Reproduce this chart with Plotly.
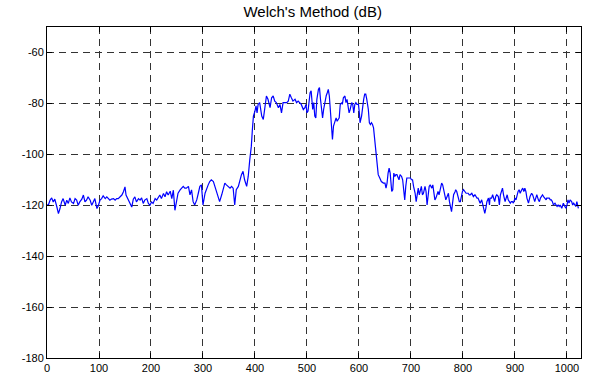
import plotly.graph_objects as go

# Frequency bins (x) and Welch PSD estimate in dB (y)
freq_a = [0, 3, 6, 9, 12, 15, 19, 22, 25, 28, 31, 35, 38, 41, 44, 47, 51, 54, 57, 60,
          63, 67, 70, 73, 76, 79, 83, 86, 89, 92, 96, 99, 102, 105, 108, 112, 115, 118,
          121, 124, 128, 131, 134, 137, 140, 144, 147, 150, 152, 155, 160, 163, 166, 169,
          172, 176, 179, 182, 185, 188, 192, 195, 198, 201, 204, 208, 211, 214, 217, 220,
          224, 227, 230, 233, 237, 240, 243, 246]
psd_a = [-120, -119.7, -118, -117.1, -118.7, -117.6, -120.7, -123.3, -121.3, -118.7, -117.4,
         -120, -118, -119.3, -117.1, -118.7, -119.3, -117.4, -118, -120, -118.7, -117.6, -116,
         -118.7, -118, -116.7, -118, -120, -118.7, -117.4, -121.3, -120, -118, -117.4, -116.3,
         -117.4, -116.7, -117.6, -118, -117.6, -117.4, -118, -117.4, -117.4, -116.7, -116,
         -114.7, -112.8, -116, -117.4, -119.3, -120.7, -117.6, -116.7, -118.7, -117.4, -118,
         -117.1, -119.3, -118, -117.4, -119.3, -120, -118.7, -119.3, -117.4, -118, -116.7, -116,
         -117.4, -115.4, -116.7, -114.7, -116, -114.5, -117.4, -114.1, -122]

freq_b = [252, 256, 259, 262, 265, 268, 272, 275, 278, 281, 284, 288, 291, 294, 297, 300,
          304, 307, 310, 313, 316, 320, 323, 326, 329, 332, 336, 339, 342, 345, 348, 352, 355,
          358, 361, 364, 368, 371, 374, 377, 380, 384, 387, 390, 393, 395, 397, 400, 402, 404,
          406, 409, 413, 416, 419, 422, 425, 429, 432, 435, 438, 441, 445, 448, 451, 454, 457,
          461, 464, 467, 470, 473, 477, 480, 483, 486, 489, 493]
psd_b = [-115.3, -114, -113.3, -112.6, -113.3, -113.3, -112.6, -115.9, -114, -118.6, -119.9,
         -117.9, -115.3, -112.6, -112, -119.9, -115.3, -113.3, -112, -110.7, -110, -110.7,
         -112.6, -113.9, -115.9, -118.6, -115.9, -113.9, -111.3, -112, -112.6, -113.3, -112.6,
         -113.3, -119.9, -113.9, -112.6, -110, -108, -106.7, -110, -112.6, -108.7, -102.1,
         -96.8, -90.3, -85, -83, -81, -83.7, -80.4, -79.7, -85, -86.3, -80.4, -77.1, -78.4,
         -81.7, -77.8, -77.1, -79.1, -79.7, -81.7, -80.4, -83.7, -79.7, -79.7, -79.7, -79.1,
         -76.4, -77.8, -79.1, -78.4, -79.7, -79.1, -79.7, -80.4, -82.4]

freq_c = [496, 498, 500, 502, 504, 506, 508, 509, 511, 513, 515, 517, 519, 522, 524, 526,
          528, 530, 532, 535, 537, 539, 541, 543, 545, 547, 549, 551, 554, 556, 558, 560, 562,
          564, 567, 568, 570, 573, 575, 577, 579, 581, 583, 586, 588, 590, 592, 594, 596, 599,
          601, 602, 605, 607, 609, 611, 613, 615, 618, 620, 622, 624, 626, 628, 631, 633, 635,
          637, 640, 643, 647, 650, 652, 654, 656, 658, 660, 663, 665, 667, 669, 671, 673, 676,
          677, 679, 682, 684, 686, 688, 690, 692, 695, 697, 699, 701, 703, 705, 708, 710, 711,
          714, 716, 718, 720, 722, 724, 727, 729, 731, 733, 735, 737, 740, 742, 743]
psd_c = [-81.7, -80.4, -83.7, -83, -79.7, -75.8, -75.1, -78.4, -82.4, -79.7, -85, -85.7,
         -78.4, -74.5, -73.8, -78.4, -83.7, -85.7, -82.4, -78.4, -77, -75.8, -74.5, -77.1,
         -83.7, -88.3, -94.2, -88.9, -86.3, -85.7, -87, -86.3, -85.7, -80.4, -79.7, -80.4,
         -77.8, -77.1, -79.7, -78.4, -81, -83.7, -82.4, -79.7, -80.4, -83.7, -80.4, -79.7,
         -80.4, -80.4, -84.3, -87.6, -85, -81, -78.4, -76.4, -76.4, -78.4, -82.4, -87.6, -88.3,
         -87.6, -88.3, -89.6, -95.5, -100.1, -105.4, -108, -109.3, -110.7, -111.3, -111.3,
         -113.3, -111.3, -107.4, -105.4, -107.4, -114.6, -113.9, -107.4, -108.7, -108, -108,
         -109.3, -110, -108, -108.7, -110, -113.9, -117.9, -112.6, -109.3, -109.3, -109.3,
         -109.3, -110, -110, -112.6, -115.3, -118.6, -116.6, -113.3, -115.9, -113.9, -112.6,
         -115.9, -115.3, -112.6, -114.6, -119.9, -115.9, -112.6, -112, -113.3, -112, -113.9]

freq_d = [746, 748, 750, 752, 754, 756, 759, 761, 763, 765, 767, 769, 772, 774, 776, 778,
          780, 782, 785, 786, 788, 791, 793, 795, 797, 799, 801, 804, 806, 808, 810, 812, 814,
          817, 818, 820, 823, 825, 827, 829, 831, 833, 836, 838, 840, 842, 844, 846, 849, 851,
          852, 855, 857, 859, 861, 863, 865, 868, 870, 872, 874, 876, 878, 881, 883, 885, 887,
          889, 891, 893, 895, 897, 900, 902, 904, 906, 908, 910, 913, 915, 917, 919, 921, 923,
          926, 927, 929, 932, 934, 936, 938, 940, 942, 945, 947, 949, 951, 953, 955, 958, 960,
          961, 964, 966, 968, 970, 972, 974, 977, 979, 981, 983, 985, 987, 990, 992, 993, 996,
          998, 1000, 1002, 1004, 1006, 1009, 1011, 1013, 1015, 1017, 1019, 1022]
psd_d = [-117.9, -117.2, -115.3, -114.6, -115.9, -113.9, -111.3, -112, -114.6, -115.9, -117.9,
         -116.6, -115.3, -118.6, -121.2, -122.5, -119.2, -115.9, -114.6, -113.9, -114.6, -117.2,
         -118.6, -118.6, -115.9, -114.6, -113.9, -114.6, -115.3, -115.3, -115.3, -115.9, -115.9,
         -115.3, -115.9, -116.6, -115.9, -116.6, -117.2, -117.2, -118.6, -119.2, -117.9, -119.9,
         -121.2, -123.2, -121.2, -118.6, -117.2, -119.9, -117.2, -117.2, -115.9, -117.2, -118.6,
         -116.6, -115.9, -116.6, -119.9, -115.9, -113.9, -113.3, -115.9, -118.6, -117.2, -115.9,
         -117.9, -118.6, -119.2, -118.6, -118.6, -119.2, -117.2, -117.9, -115.9, -114.6, -113.9,
         -115.3, -113.9, -113.3, -114.6, -113.3, -114.6, -117.2, -119.2, -117.9, -116.6, -115.3,
         -115.9, -117.2, -118.6, -117.2, -115.9, -117.9, -118.6, -117.2, -116.6, -115.9, -116.6,
         -117.2, -117.9, -117.2, -117.2, -117.2, -117.9, -117.9, -118.6, -119.9, -119.2, -119.9,
         -120.5, -119.9, -120.5, -119.9, -121.2, -119.9, -119.2, -120.5, -121.2, -119.9, -117.9,
         -119.2, -117.9, -118.6, -119.9, -119.2, -119.9, -120.5, -118.6, -121.2]

x_ticks = [0, 100, 200, 300, 400, 500, 600, 700, 800, 900, 1000]
y_ticks = [-180, -160, -140, -120, -100, -80, -60]

freq = freq_a + freq_b + freq_c + freq_d
psd = psd_a + psd_b + psd_c + psd_d

fig = go.Figure()
fig.add_trace(go.Scatter(x=freq, y=psd, mode="lines",
                         line=dict(color="#0000FF", width=1.2), showlegend=False))

axis_common = dict(
    showline=True, linecolor="black", linewidth=1, mirror="ticks",
    ticks="inside", ticklen=5, tickcolor="black", tickwidth=1,
    showgrid=True, gridcolor="#333333", gridwidth=1, griddash="7px,5px",
    zeroline=False, automargin=False,
    tickfont=dict(family="Liberation Sans, Arial, sans-serif", size=11, color="black"),
)

fig.update_layout(
    width=590, height=376,
    margin=dict(l=47, r=9, t=27, b=18),
    paper_bgcolor="white", plot_bgcolor="white",
    title=dict(text="Welch's Method (dB)", x=0.53, xanchor="center",
               y=1 - 12 / 376, yanchor="middle", yref="container",
               font=dict(family="Liberation Sans, Arial, sans-serif", size=15, color="black")),
    xaxis=dict(range=[0, 1027], tickmode="array", tickvals=x_ticks,
               ticktext=[str(v) for v in x_ticks], ticklabelstandoff=0, **axis_common),
    yaxis=dict(range=[-180, -50], tickmode="array", tickvals=y_ticks,
               ticktext=[str(v) for v in y_ticks], ticklabelstandoff=0, **axis_common),
)

fig.write_html("out.html")
